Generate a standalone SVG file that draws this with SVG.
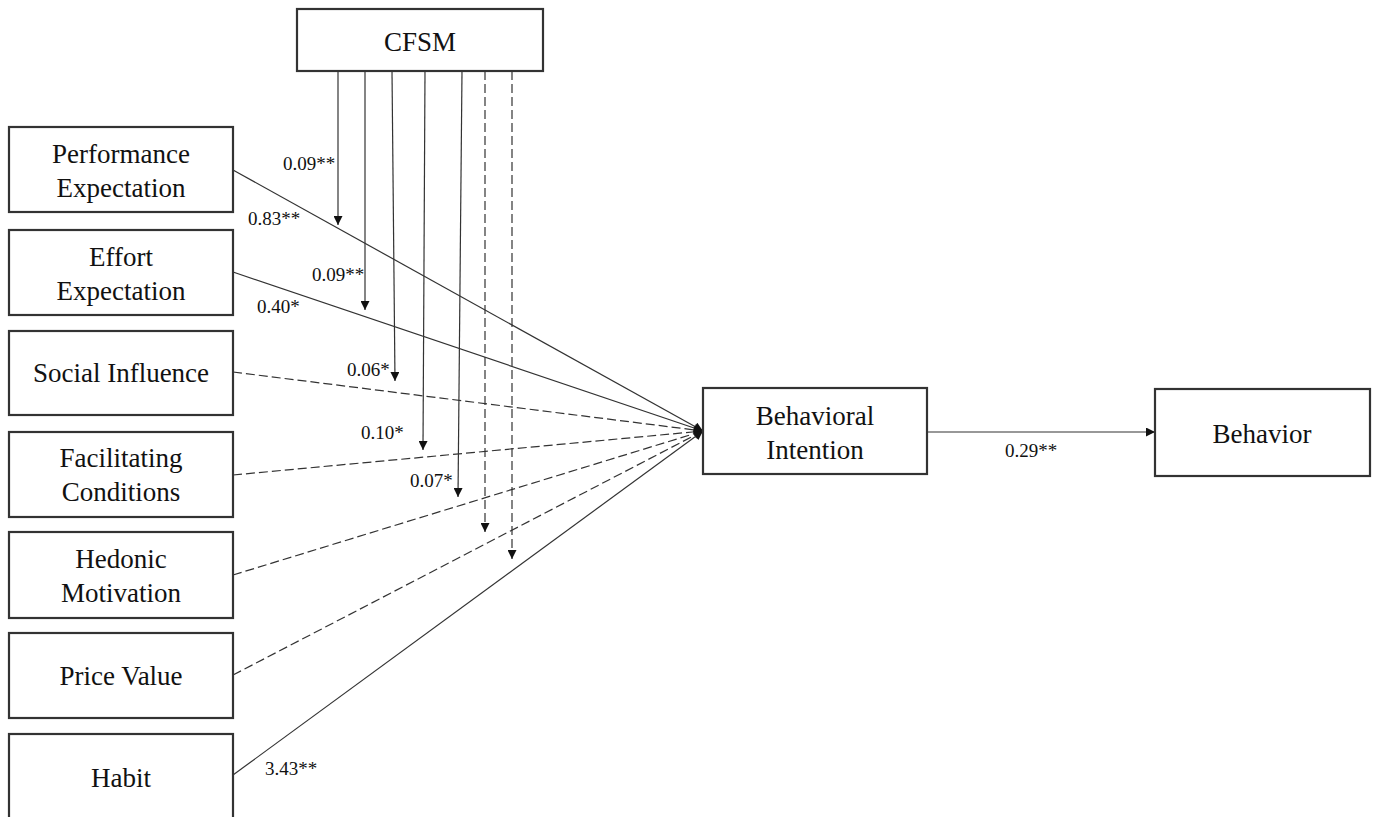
<svg xmlns="http://www.w3.org/2000/svg" width="1373" height="817" viewBox="0 0 1373 817">
<style>
.box{fill:#fff;stroke:#333;stroke-width:2.2}
.t{font-family:"Liberation Serif","Times New Roman",serif;font-size:27px;fill:#111;text-anchor:middle}
.l{font-family:"Liberation Serif","Times New Roman",serif;font-size:19px;fill:#111}
.c{stroke:#333;stroke-width:1.2;fill:none}
.d{stroke-dasharray:9,4}
</style>
<defs>
<marker id="ah" viewBox="0 0 10 10" refX="10" refY="5" markerWidth="10" markerHeight="9" markerUnits="userSpaceOnUse" orient="auto">
<path d="M0,0 L10,5 L0,10 z" fill="#111"/>
</marker>
</defs>
<rect width="1373" height="817" fill="#fff"/>
<g id="connectors">
<line class="c" x1="233" y1="170" x2="703" y2="431" marker-end="url(#ah)"/>
<line class="c" x1="233" y1="272" x2="703" y2="431" marker-end="url(#ah)"/>
<line class="c d" x1="233" y1="372" x2="703" y2="431" marker-end="url(#ah)"/>
<line class="c d" x1="233" y1="475" x2="703" y2="431" marker-end="url(#ah)"/>
<line class="c d" x1="233" y1="575" x2="703" y2="431" marker-end="url(#ah)"/>
<line class="c d" x1="233" y1="675" x2="703" y2="431" marker-end="url(#ah)"/>
<line class="c" x1="233" y1="775" x2="703" y2="431" marker-end="url(#ah)"/>
<line class="c" x1="928" y1="432" x2="1155" y2="432" marker-end="url(#ah)"/>
<line class="c" x1="338" y1="71" x2="338" y2="225" marker-end="url(#ah)"/>
<line class="c" x1="365" y1="71" x2="365" y2="310" marker-end="url(#ah)"/>
<line class="c" x1="392" y1="71" x2="395" y2="381" marker-end="url(#ah)"/>
<line class="c" x1="425" y1="71" x2="423" y2="450" marker-end="url(#ah)"/>
<line class="c" x1="462" y1="71" x2="458" y2="497" marker-end="url(#ah)"/>
<line class="c d" x1="485" y1="71" x2="485" y2="532" marker-end="url(#ah)"/>
<line class="c d" x1="512" y1="71" x2="512" y2="559" marker-end="url(#ah)"/>
<text class="l" x="283" y="170">0.09**</text>
<text class="l" x="248" y="225">0.83**</text>
<text class="l" x="312" y="281">0.09**</text>
<text class="l" x="257" y="313">0.40*</text>
<text class="l" x="347" y="376">0.06*</text>
<text class="l" x="361" y="439">0.10*</text>
<text class="l" x="410" y="487">0.07*</text>
<text class="l" x="265" y="775">3.43**</text>
<text class="l" x="1005" y="457">0.29**</text>
</g>
<g id="cfsm"><rect class="box" x="297" y="9" width="246" height="62"/><text class="t" x="420" y="51">CFSM</text></g>
<g id="pe"><rect class="box" x="9" y="127" width="224" height="85"/><text class="t" x="121" y="163">Performance</text><text class="t" x="121" y="197">Expectation</text></g>
<g id="ee"><rect class="box" x="9" y="230" width="224" height="85"/><text class="t" x="121" y="266">Effort</text><text class="t" x="121" y="300">Expectation</text></g>
<g id="si"><rect class="box" x="9" y="331" width="224" height="84"/><text class="t" x="121" y="382">Social Influence</text></g>
<g id="fc"><rect class="box" x="9" y="432" width="224" height="85"/><text class="t" x="121" y="467">Facilitating</text><text class="t" x="121" y="501">Conditions</text></g>
<g id="hm"><rect class="box" x="9" y="532" width="224" height="86"/><text class="t" x="121" y="568">Hedonic</text><text class="t" x="121" y="602">Motivation</text></g>
<g id="pv"><rect class="box" x="9" y="633" width="224" height="85"/><text class="t" x="121" y="685">Price Value</text></g>
<g id="habit"><rect class="box" x="9" y="734" width="224" height="100"/><text class="t" x="121" y="787">Habit</text></g>
<g id="bi"><rect class="box" x="703" y="388" width="224" height="86"/><text class="t" x="815" y="425">Behavioral</text><text class="t" x="815" y="459">Intention</text></g>
<g id="beh"><rect class="box" x="1155" y="389" width="215" height="87"/><text class="t" x="1262" y="443">Behavior</text></g>
</svg>
